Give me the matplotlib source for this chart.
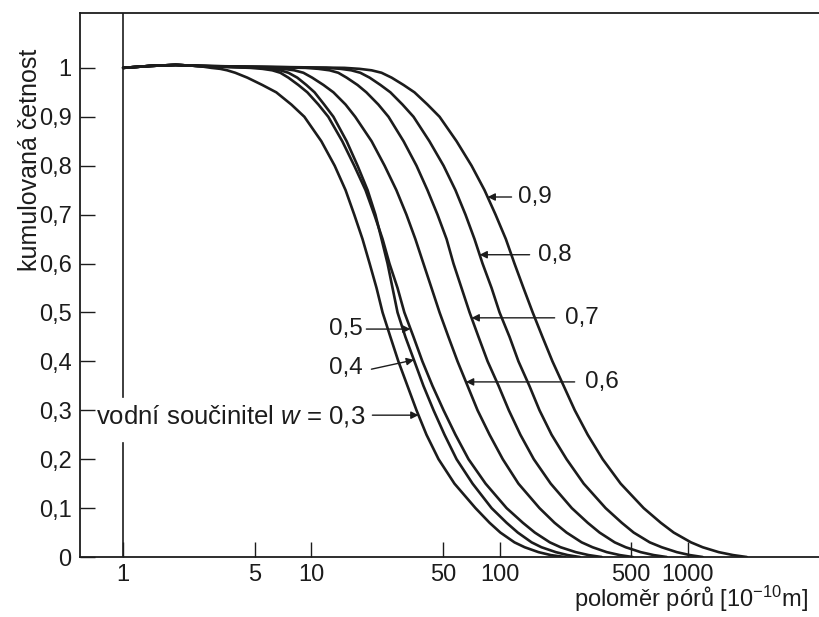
import matplotlib
matplotlib.use('Agg')
from matplotlib import pyplot as plt
from matplotlib.ticker import NullLocator

plt.rcParams['font.family'] = ['Liberation Sans', 'DejaVu Sans']
plt.rcParams['mathtext.fontset'] = 'custom'
plt.rcParams['mathtext.rm'] = 'Liberation Sans'
plt.rcParams['mathtext.it'] = 'Liberation Sans:italic'

# cumulative frequency levels (shared by all curves)
levels = [1.0, 0.998, 0.995, 0.99, 0.98, 0.965, 0.95, 0.925, 0.9, 0.85, 0.8,
          0.75, 0.7, 0.65, 0.6, 0.55, 0.5, 0.45, 0.4, 0.35, 0.3, 0.25, 0.2,
          0.15, 0.1, 0.07, 0.05, 0.03, 0.02, 0.01, 0.004, 0.0]
# common start of all curves (small bump above 1)
head_r = [1.0, 1.4, 1.9, 2.5]
head_v = [1.0, 1.004, 1.006, 1.004]

# pore radius [1e-10 m] at each level, one list per water coefficient w
r_03 = [2.94, 3.28, 3.57, 3.94, 4.57, 5.49, 6.51, 7.83, 9.18, 11.3, 13.3, 15.2,
        16.9, 18.7, 20.4, 22.2, 23.9, 26.3, 29.0, 32.4, 36.2, 40.9, 47.4, 57.6,
        74.5, 88.5, 101, 120, 136, 161, 187, 222]
r_04 = [5.42, 6.13, 6.84, 7.55, 8.42, 9.41, 10.4, 11.7, 13.1, 15.4, 17.6, 19.9,
        21.9, 23.6, 25.4, 27.0, 28.7, 31.6, 35.3, 39.4, 44.6, 51.0, 59.1, 71.9,
        90.7, 109, 125, 148, 167, 199, 230, 267]
r_05 = [4.74, 5.49, 6.20, 6.84, 7.55, 8.53, 9.52, 10.9, 12.3, 14.6, 16.9, 19.4,
        21.6, 23.9, 26.0, 28.7, 31.2, 34.9, 38.9, 44.0, 50.4, 58.3, 68.4, 84.3,
        109, 133, 154, 185, 211, 254, 297, 349]
r_06 = [6.05, 7.10, 8.12, 9.07, 10.1, 11.6, 13.1, 15.2, 17.1, 20.9, 24.5, 28.3,
        32.0, 35.7, 39.4, 43.5, 48.0, 53.5, 59.8, 67.6, 76.4, 88.5, 104, 126,
        163, 196, 227, 273, 312, 371, 435, 510]
r_07 = [9.29, 10.9, 12.5, 13.9, 15.4, 17.6, 19.6, 22.7, 25.7, 30.9, 36.2, 41.4,
        46.8, 52.3, 56.9, 62.8, 69.3, 77.3, 86.4, 98.8, 112, 129, 152, 187,
        242, 294, 340, 409, 468, 562, 659, 773]
r_08 = [12.0, 14.3, 16.3, 18.2, 20.4, 23.3, 26.3, 30.5, 34.9, 42.4, 50.4, 58.3,
        65.9, 73.6, 81.2, 90.7, 100, 113, 126, 144, 163, 189, 227, 280,
        366, 446, 516, 628, 727, 874, 1025, 1200]
r_09 = [15.0, 18.0, 20.9, 23.6, 26.7, 30.9, 35.3, 41.4, 48.0, 59.1, 71.0, 83.2,
        95.2, 108, 120, 134, 150, 169, 191, 219, 251, 294, 353, 440,
        583, 719, 842, 1040, 1200, 1460, 1740, 2060]
curves = [r_03, r_04, r_05, r_06, r_07, r_08, r_09]

x_ticks = [1, 5, 10, 50, 100, 500, 1000]
x_labels = ['1', '5', '10', '50', '100', '500', '1000']
y_ticks = [0, 0.1, 0.2, 0.3, 0.4, 0.5, 0.6, 0.7, 0.8, 0.9, 1.0]
y_labels = ['0', '0,1', '0,2', '0,3', '0,4', '0,5', '0,6', '0,7', '0,8', '0,9', '1']

# curve labels: text, text position, arrow tail, arrow tip, font size
labels_right = [
    ('0,9', (124.7, 0.736), (115.8, 0.736), (86.4, 0.736), 17.5),
    ('0,8', (159.3, 0.618), (144.4, 0.618), (78.3, 0.618), 17.5),
    ('0,7', (221.7, 0.489), (196.2, 0.489), (71.0, 0.489), 17.5),
    ('0,6', (283.2, 0.358), (250.6, 0.358), (66.3, 0.358), 17.5),
]
labels_left = [
    ('0,5', (18.7, 0.466), (19.6, 0.466), (33.6, 0.466), 17.5),
    ('0,4', (18.7, 0.386), (20.85, 0.384), (35.1, 0.403), 17.5),
    ('vodní součinitel $w$ = 0,3', (19.4, 0.288), (21.1, 0.29), (37.1, 0.29), 18.5),
]

ink = '#1c1c1c'
fig = plt.figure(figsize=(8.19, 6.17), dpi=100)
ax = fig.add_axes([0.0977, 0.0972, 0.9023, 0.882])

for rr in curves:
    ax.plot(head_r + rr, head_v + levels, color=ink, lw=1.9, solid_capstyle='round')

# vertical line at r = 1 with a gap for the text
ax.plot([1, 1], [0, 0.233], color=ink, lw=1.2)
ax.plot([1, 1], [0.327, 1.12], color=ink, lw=1.2)

arrow = dict(arrowstyle='-|>', color=ink, lw=1.0, mutation_scale=11,
             shrinkA=0, shrinkB=0)
for txt, pos, tail, tip, size in labels_right:
    ax.text(pos[0], pos[1], txt, ha='left', va='center', fontsize=size, color=ink)
    ax.annotate('', xy=tip, xytext=tail, arrowprops=arrow)
for txt, pos, tail, tip, size in labels_left:
    ax.text(pos[0], pos[1], txt, ha='right', va='center', fontsize=size, color=ink)
    ax.annotate('', xy=tip, xytext=tail, arrowprops=arrow)

ax.set_xscale('log')
ax.set_xlim(0.59, 4980)
ax.set_ylim(0, 1.1125)
ax.set_xticks(x_ticks)
ax.set_xticklabels(x_labels)
ax.xaxis.set_minor_locator(NullLocator())
ax.set_yticks(y_ticks)
ax.set_yticklabels(y_labels)
ax.tick_params(direction='in', length=11, width=1, labelsize=17, colors=ink)
ax.tick_params(axis='x', pad=5)
ax.tick_params(axis='y', pad=6)

ax.spines['right'].set_visible(False)
for s in ['left', 'bottom', 'top']:
    ax.spines[s].set_linewidth(1.3)
    ax.spines[s].set_color(ink)

fig.text(808 / 819, 1 - 599 / 617, 'poloměr pórů [10$^{-10}$m]', ha='right',
         va='center', fontsize=17, color=ink)
fig.text(30 / 819, 1 - 160 / 617, 'kumulovaná četnost', rotation=90, ha='center',
         va='center', fontsize=18, color=ink)

fig.savefig('out.png', dpi=100)
